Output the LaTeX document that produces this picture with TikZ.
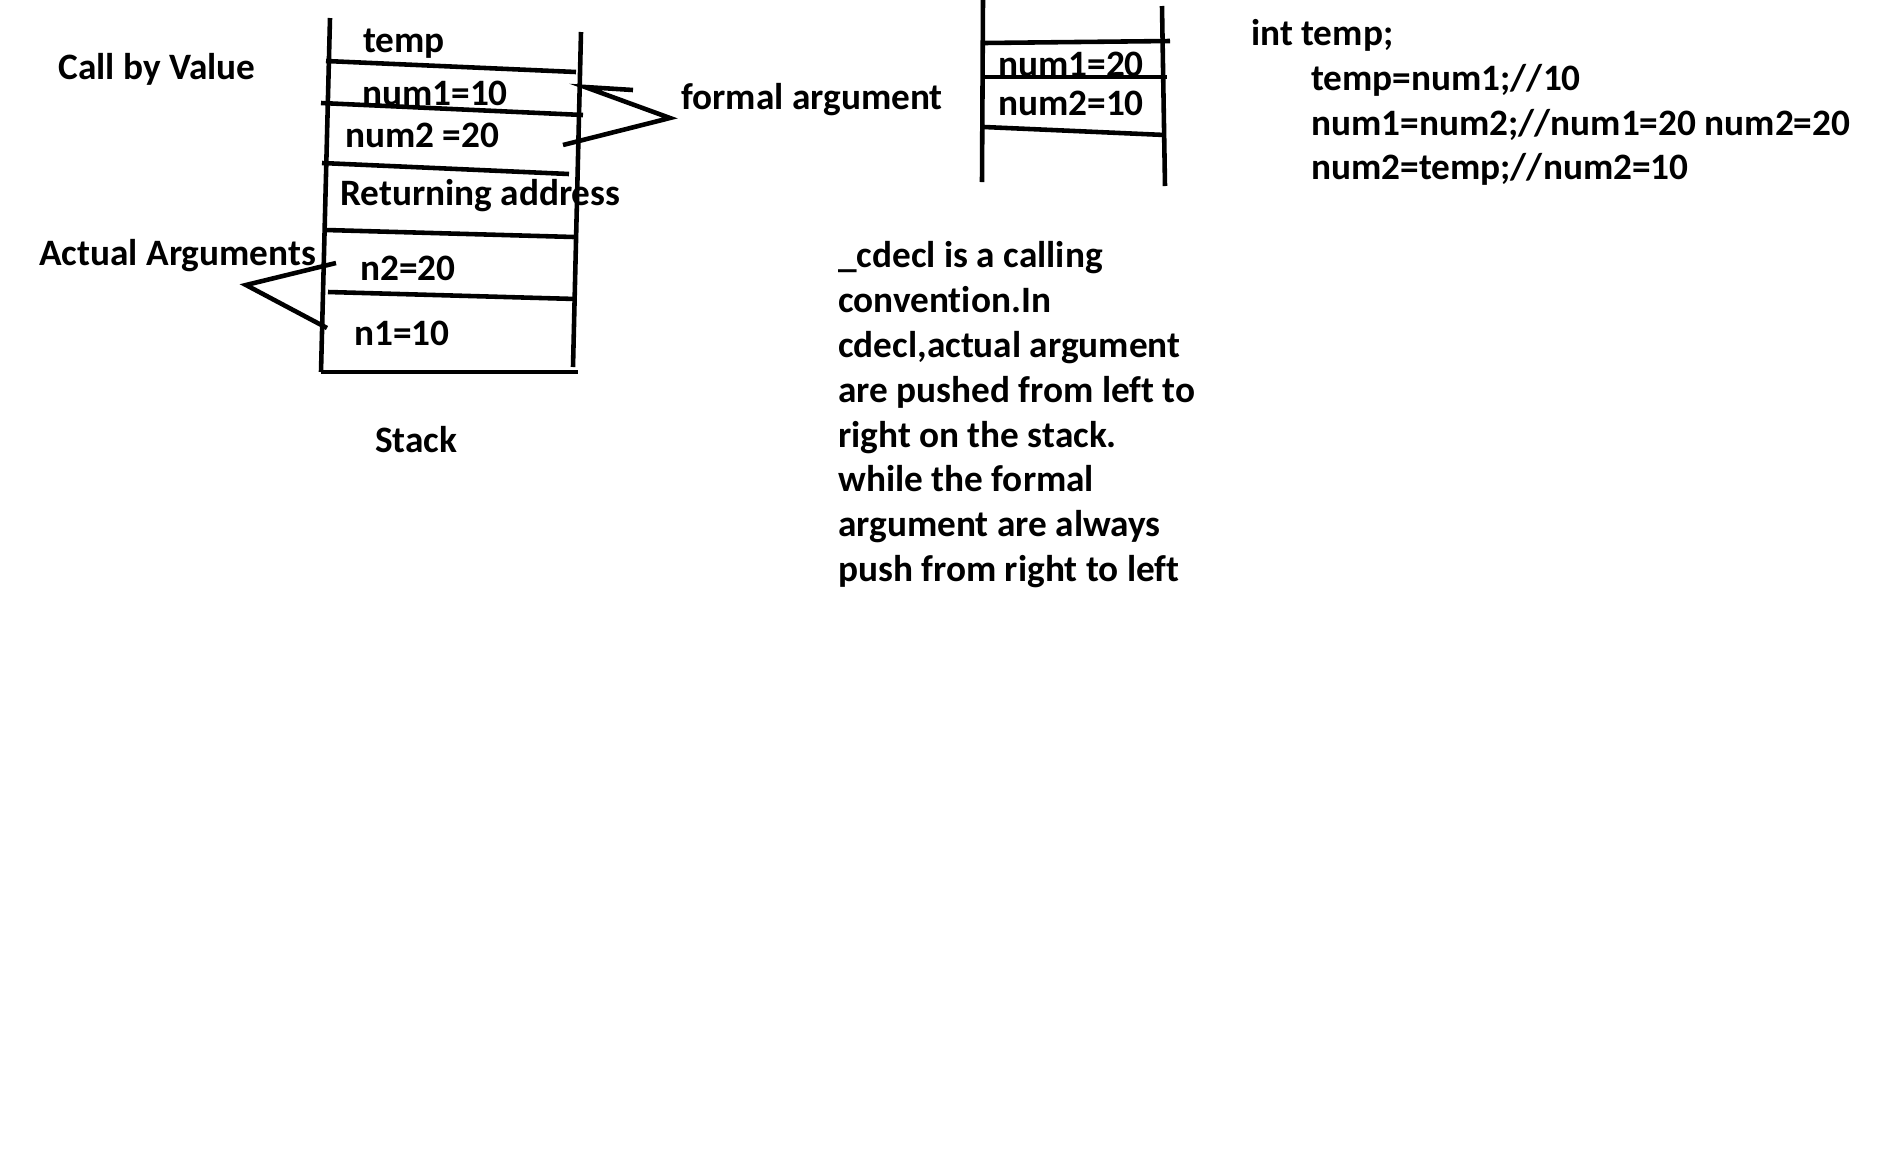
\documentclass[tikz,border=0pt]{standalone}
\usepackage{fontspec}
\setmainfont{Carlito}[Ligatures=NoCommon]
\usetikzlibrary{positioning}

\begin{document}
\begin{tikzpicture}[x=0.01cm, y=-0.01cm, line width=1.3pt,
    font=\fontsize{10.6}{12.7}\selectfont\bfseries,
    lbl/.style={anchor=base west, inner sep=0pt, yshift=-0.25mm}]
  \useasboundingbox (0,0) rectangle (1902,1169);
  % the stack of the caller
  \draw (330,18) -- (321,372);
  \draw (581,32) -- (573,367);
  \draw (326,61) -- (576,72);
  \draw (321,103) -- (583,115);
  \draw (322,163) -- (569,174);
  \draw (326,230) -- (574,237);
  \draw (328,292) -- (576,299);
  \draw (321,372) -- (578,372);
  \node[lbl] (temp) at (361,50) {temp};
  \node[lbl] (num1) at (360,103) {num1=10};
  \node[lbl] (num2) at (343,145) {num2 =20};
  \node[lbl] (ret) at (338,203) {Returning address};
  \node[lbl] (n2) at (358,278) {n2=20};
  \node[lbl] (n1) at (352,343) {n1=10};
  \node[lbl] (stack) at (373,450) {Stack};
  \node[lbl] (title) at (56,77) {Call by Value};
  % actual arguments
  \node[lbl] (actual) at (37,263) {Actual Arguments};
  \coordinate (actA) at (336,263);
  \coordinate (actTip) at (246,285);
  \coordinate (actB) at (327,328);
  \draw (actA) -- (actTip) -- (actB);
  % formal arguments
  \node[lbl] (formal) at (679,107) {formal argument};
  \coordinate (fmlA) at (633,90);
  \coordinate (fmlB) at (585,87);
  \coordinate (fmlTip) at (670,118);
  \coordinate (fmlC) at (563,145);
  \draw (fmlA) -- (fmlB) -- (fmlTip) -- (fmlC);
  % after the swap
  \draw (983,0) -- (982,182);
  \draw (1162,6) -- (1165,186);
  \draw (984,43) -- (1170,41);
  \draw (984,77) -- (1167,77);
  \draw (984,127) -- (1165,135);
  \node[lbl] (swapA) at (996,74) {num1=20};
  \node[lbl] (swapB) at (996,113) {num2=10};
  % swap code
  \foreach \i/\x/\y/\t in {1/1249/43/{int temp;}, 2/1309/88/{temp=num1;//10},
      3/1309/133/{num1=num2;//num1=20 num2=20}, 4/1309/177/{num2=temp;//num2=10}}
    \node[lbl] (code\i) at (\x,\y) {\t};
  % note on cdecl
  \foreach \i/\y/\t in {1/265/{\_cdecl is a calling}, 2/310/{convention.In},
      3/355/{cdecl,actual argument}, 4/400/{are pushed from left to},
      5/445/{right on the stack.}, 6/489/{while the formal},
      7/534/{argument are always}, 8/579/{push from right to left}}
    \node[lbl] (note\i) at (836,\y) {\t};
\end{tikzpicture}
\end{document}
